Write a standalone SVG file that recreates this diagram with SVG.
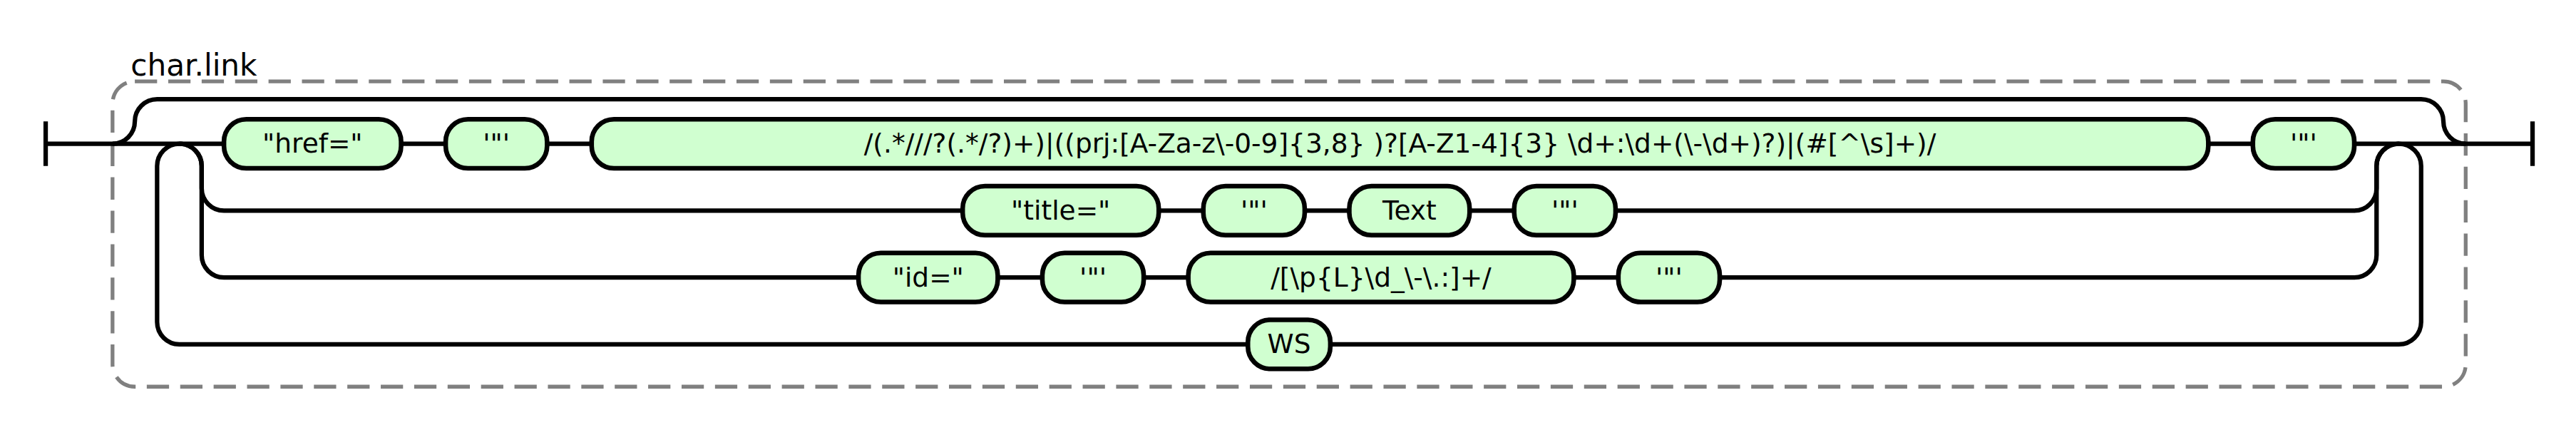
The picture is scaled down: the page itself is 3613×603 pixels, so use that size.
<svg xmlns="http://www.w3.org/2000/svg" width="3613" height="603" viewBox="0 0 3613 603">
<style>
.bg{fill:#ffffff}
.conn path{fill:none;stroke:#000;stroke-width:2}
.node rect{fill:#d0ffd0;stroke:#000;stroke-width:2.1}
.node text{font-family:"DejaVu Sans","Liberation Sans",sans-serif;font-size:12px;text-anchor:middle;fill:#000}
.box{fill:none;stroke:#808080;stroke-width:1.7;stroke-dasharray:10 5}
.label{font-family:"DejaVu Sans","Liberation Sans",sans-serif;font-size:13.5px;text-anchor:middle;fill:#000}
</style>
<rect class="bg" x="0" y="0" width="3613" height="603"/>
<g transform="scale(3.125432) translate(0.5 0.5)">
  <g id="group-char-link">
    <rect class="box" x="50" y="36" width="1056" height="137" rx="10" ry="10"/>
    <text class="label" x="86.5" y="33.3">char.link</text>
  </g>
  <g id="connectors" class="conn">
    <path d="M20 54 v20 M20 64 H100"/>
    <path d="M50 64 a10 10 0 0 0 10 -10 a10 10 0 0 1 10 -10 H1086 a10 10 0 0 1 10 10 a10 10 0 0 0 10 10"/>
    <path d="M179.5 64 H199.5 M245 64 H265 M990.5 64 H1010.5 M1056 64 H1136 M1136 54 v20"/>
    <path d="M80 64 a10 10 0 0 0 -10 10 V144 a10 10 0 0 0 10 10 H559.5 M596.5 154 H1076 a10 10 0 0 0 10 -10 V74 a10 10 0 0 0 -10 -10"/>
    <path d="M80 64 a10 10 0 0 1 10 10 V84 a10 10 0 0 0 10 10 H431.5 M519.5 94 H539.5 M585 94 H605 M659 94 H679 M724.5 94 H1056 a10 10 0 0 0 10 -10 V74 a10 10 0 0 1 10 -10"/>
    <path d="M80 64 a10 10 0 0 1 10 10 V114 a10 10 0 0 0 10 10 H384.75 M447.25 124 H467.25 M512.75 124 H532.75 M705.75 124 H725.75 M771.25 124 H1056 a10 10 0 0 0 10 -10 V74 a10 10 0 0 1 10 -10"/>
  </g>
  <g id="t-href" class="node"><rect x="100" y="53" width="79.5" height="22" rx="10" ry="10"/><text x="139.75" y="68">"href="</text></g>
  <g id="t-q1" class="node"><rect x="199.5" y="53" width="45.5" height="22" rx="10" ry="10"/><text x="222.25" y="68">'"'</text></g>
  <g id="t-uri" class="node"><rect x="265" y="53" width="725.5" height="22" rx="10" ry="10"/><text x="627.75" y="68">/(.*///?(.*/?)+)|((prj:[A-Za-z\-0-9]{3,8} )?[A-Z1-4]{3} \d+:\d+(\-\d+)?)|(#[^\s]+)/</text></g>
  <g id="t-q2" class="node"><rect x="1010.5" y="53" width="45.5" height="22" rx="10" ry="10"/><text x="1033.25" y="68">'"'</text></g>
  <g id="t-title" class="node"><rect x="431.5" y="83" width="88" height="22" rx="10" ry="10"/><text x="475.5" y="98">"title="</text></g>
  <g id="t-q3" class="node"><rect x="539.5" y="83" width="45.5" height="22" rx="10" ry="10"/><text x="562.25" y="98">'"'</text></g>
  <g id="n-text" class="node"><rect x="605" y="83" width="54" height="22" rx="10" ry="10"/><text x="632" y="98">Text</text></g>
  <g id="t-q4" class="node"><rect x="679" y="83" width="45.5" height="22" rx="10" ry="10"/><text x="701.75" y="98">'"'</text></g>
  <g id="t-id" class="node"><rect x="384.75" y="113" width="62.5" height="22" rx="10" ry="10"/><text x="416" y="128">"id="</text></g>
  <g id="t-q5" class="node"><rect x="467.25" y="113" width="45.5" height="22" rx="10" ry="10"/><text x="490" y="128">'"'</text></g>
  <g id="t-idre" class="node"><rect x="532.75" y="113" width="173" height="22" rx="10" ry="10"/><text x="619.25" y="128">/[\p{L}\d_\-\.:]+/</text></g>
  <g id="t-q6" class="node"><rect x="725.75" y="113" width="45.5" height="22" rx="10" ry="10"/><text x="748.5" y="128">'"'</text></g>
  <g id="n-ws" class="node"><rect x="559.5" y="143" width="37" height="22" rx="10" ry="10"/><text x="578" y="158">WS</text></g>
</g>
</svg>
